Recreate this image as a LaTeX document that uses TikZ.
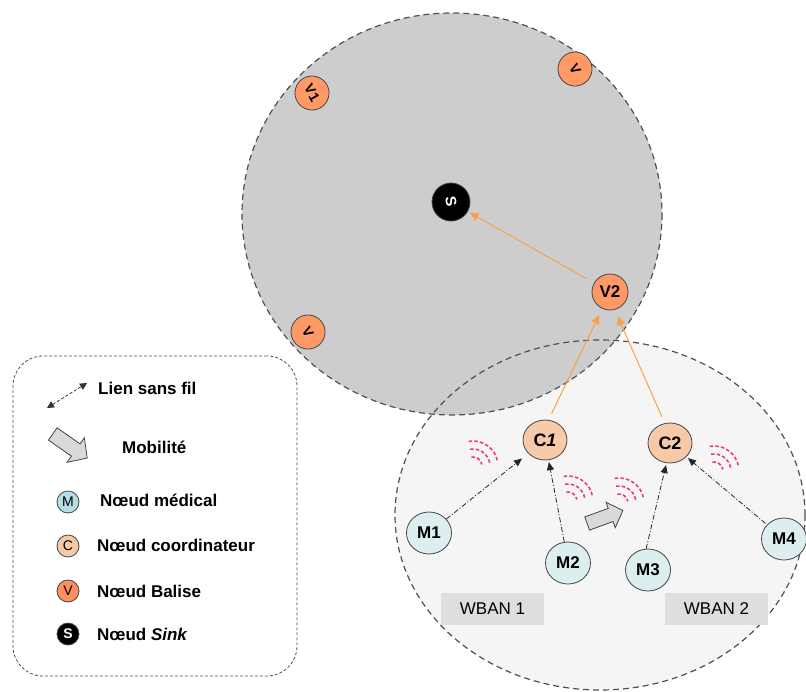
\documentclass[tikz,border=0pt]{standalone}
\usepackage{fontspec}
\setmainfont{Liberation Sans}
\usetikzlibrary{arrows.meta,shapes.geometric}
\definecolor{bigfill}{HTML}{CDCDCD}
\definecolor{wbanfill}{HTML}{F5F5F5}
\definecolor{vfill}{HTML}{FF9966}
\definecolor{cfill}{HTML}{F6CAA8}
\definecolor{mfill}{HTML}{DCEEEF}
\definecolor{mleg}{HTML}{B6DEE6}
\definecolor{vleg}{HTML}{FF8F5E}
\definecolor{orangeln}{HTML}{F9A04B}
\definecolor{wifi}{HTML}{F0307A}
\definecolor{boxfill}{HTML}{DEDEDE}
\definecolor{arrfill}{HTML}{D9D9D9}
\definecolor{edgec}{HTML}{454545}
\definecolor{dashc}{HTML}{505050}
\newcommand{\fsz}[1]{\fontsize{#1}{#1}\selectfont}
\tikzset{
  base/.style={draw=edgec, line width=0.8pt, inner sep=0pt, text=black},
  vnode/.style={base, circle, fill=vfill, minimum size=34pt, font=\fsz{14}\bfseries},
  snode/.style={base, circle, fill=black, minimum size=38pt, text=white, font=\fsz{15}\bfseries},
  cnode/.style={base, ellipse, fill=cfill, minimum width=44pt, minimum height=40pt, font=\fsz{18}\bfseries},
  mnode/.style={base, ellipse, fill=mfill, minimum width=45pt, minimum height=42pt, font=\fsz{17}\bfseries},
  orangearr/.style={draw=orangeln, line width=1pt, -{Triangle[length=9pt,width=8pt]}},
  linkarr/.style={draw=black!85, line width=0.8pt, dash pattern=on 5pt off 2pt on 1pt off 2pt, -{Triangle[length=8pt,width=7pt]}},
  wifiarc/.style={draw=wifi, line width=1.5pt, dash pattern=on 3.5pt off 2.2pt},
  bigzone/.style={draw=dashc, line width=1.2pt, dash pattern=on 6pt off 4pt},
  wbanlabel/.style={fill=boxfill, minimum width=103pt, minimum height=32pt, inner sep=0pt, font=\fsz{17}},
  mobshape/.style={draw=edgec, line width=0.8pt, fill=arrfill, line join=miter},
  legcirc/.style={base, circle, minimum size=22pt, font=\fsz{14}},
  legtext/.style={anchor=west, inner sep=0pt, font=\fsz{17}\bfseries},
}
\newcommand{\wifigroup}[1]{%
  \foreach \r in {9,17,25} {\draw[wifiarc] (#1) ++(-100:\r) arc[start angle=-100, end angle=-10, radius=\r];}%
}
% block arrow: centre, rotation, length, shaft width, head width, head length
\newcommand{\blockarrow}[6]{%
  \begin{scope}[shift={(#1)}, rotate=#2]
    \pgfmathsetmacro{\bal}{#3/2}\pgfmathsetmacro{\bas}{#4/2}\pgfmathsetmacro{\bah}{#5/2}\pgfmathsetmacro{\bax}{#3/2-#6}
    \path[mobshape] (-\bal,-\bas) -- (\bax,-\bas) -- (\bax,-\bah) -- (\bal,0) -- (\bax,\bah) -- (\bax,\bas) -- (-\bal,\bas) -- cycle;
  \end{scope}%
}
\begin{document}
\begin{tikzpicture}[x=1pt,y=-1pt]
\useasboundingbox[fill=white] (0,0) rectangle (806,691);
% zones
\fill[wbanfill] (600,515) ellipse [x radius=205, y radius=175];
\filldraw[fill=bigfill, bigzone] (452,214) ellipse [x radius=210, y radius=201];
\draw[bigzone] (600,515) ellipse [x radius=205, y radius=175];
% nodes
\node[snode, rotate=-80] (S) at (451,202) {S};
\node[vnode, rotate=-60] (V1) at (312,93) {V1};
\node[vnode, rotate=-60] (V3) at (575,69) {V};
\node[vnode, rotate=-60] (V4) at (308,332) {V};
\node[vnode, minimum size=36pt, font=\fsz{17}\bfseries] (V2) at (610,292) {V2};
\node[cnode] (C1) at (545,440) {C\textit{1}};
\node[cnode] (C2) at (670,443) {C2};
\node[mnode] (M1) at (429,533) {M1};
\node[mnode] (M2) at (568,563) {M2};
\node[mnode] (M3) at (648,570) {M3};
\node[mnode] (M4) at (784,539) {M4};
% orange links
\draw[orangearr, shorten <=8pt, shorten >=2pt] (V2) -- (S);
\draw[orangearr, shorten <=7pt, shorten >=7pt] (C1.80) -- (V2.-115);
\draw[orangearr, shorten <=7pt, shorten >=7pt] (C2.105) -- (V2.-75);
% wireless links
\draw[linkarr, shorten >=8pt] (M1) -- (C1);
\draw[linkarr, shorten >=2pt] (M2.100) -- (C1.-80);
\draw[linkarr, shorten >=2pt] (M3.95) -- (C2.-100);
\draw[linkarr, shorten <=2pt, shorten >=2pt] (M4) -- (C2);
% wifi signals
\coordinate (w1) at (473,466);
\coordinate (w2) at (568,501);
\coordinate (w3) at (619,503);
\coordinate (w4) at (714,471);
\wifigroup{w1}
\wifigroup{w2}
\wifigroup{w3}
\wifigroup{w4}
% mobility
\coordinate (mob) at (605,517);
\blockarrow{mob}{20}{38}{14}{27}{13}
% WBAN labels
\node[wbanlabel] (W1) at (492.5,609) {WBAN 1};
\node[wbanlabel] (W2) at (716.5,609) {WBAN 2};
% legend
\node[draw=dashc, line width=0.8pt, dash pattern=on 3pt off 2pt, rounded corners=30pt, minimum width=284pt, minimum height=320pt, inner sep=0pt] (legend) at (155,516) {};
\coordinate (la) at (47,408);
\coordinate (lb) at (87,383);
\draw[draw=black!80, line width=0.8pt, dash pattern=on 3pt off 2pt, {Triangle[length=7pt,width=7pt]}-{Triangle[length=7pt,width=7pt]}] (la) -- (lb);
\node[legtext] (tl) at (98,388) {Lien sans fil};
\coordinate (legmob) at (70,446);
\blockarrow{legmob}{-35}{42}{15}{30}{14}
\node[legtext] (tm) at (122,447) {Mobilité};
\node[legcirc, fill=mleg] (lM) at (68,502) {M};
\node[legtext] (tM) at (100,500) {Nœud médical};
\node[legcirc, fill=cfill] (lC) at (68,546) {C};
\node[legtext] (tC) at (97,545) {Nœud coordinateur};
\node[legcirc, fill=vleg] (lV) at (68,591) {V};
\node[legtext] (tV) at (97,591) {Nœud Balise};
\node[legcirc, fill=black, text=white, font=\fsz{14}\bfseries] (lS) at (68,634) {S};
\node[legtext] (tS) at (97,634) {Nœud \textit{Sink}};
\end{tikzpicture}
\end{document}
